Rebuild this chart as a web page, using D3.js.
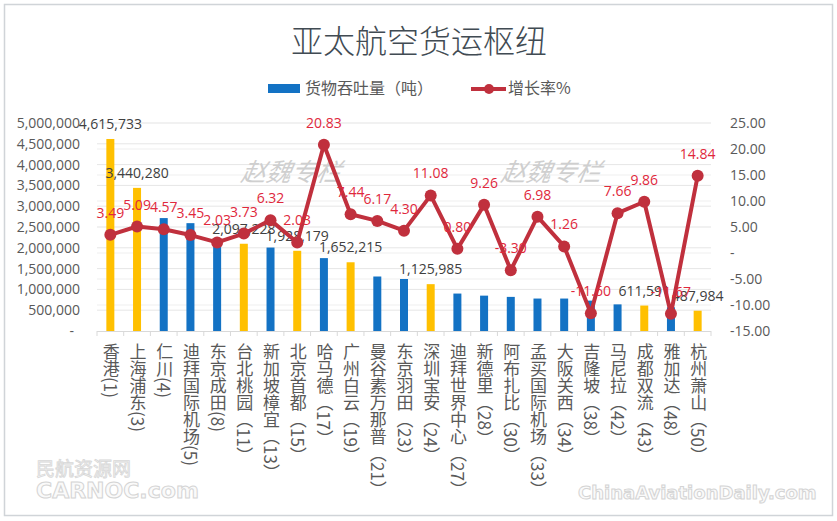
<!DOCTYPE html>
<html><head><meta charset="utf-8">
<script src="https://cdn.jsdelivr.net/npm/d3@7"></script>
<style>
body{margin:0;background:#fff;}
text{font-family:"Open Sans","Noto Sans CJK SC",sans-serif;}
</style></head>
<body><svg id="c" width="837" height="521"></svg>
<script>
const categories = ["香港(1)","上海浦东(3)","仁川(4)","迪拜国际机场(5)","东京成田(8)","台北桃园（11）","新加坡樟宜（13）","北京首都（15）","哈马德（17）","广州白云（19）","曼谷素万那普（21）","东京羽田（23）","深圳宝安（24）","迪拜世界中心（27）","新德里（28）","阿布扎比（30）","孟买国际机场（33）","大阪关西（34）","吉隆坡（38）","马尼拉（42）","成都双流（43）","雅加达（48）","杭州萧山（50）"];
const cargo = [4615733,3440280,2714341,2592454,2163000,2097228,2006000,1928179,1752000,1652215,1310000,1250000,1125985,900000,850000,820000,780000,780000,730000,640000,611591,570000,487984];
const growth = [3.49,5.09,4.57,3.45,2.03,3.73,6.32,2.03,20.83,7.44,6.17,4.30,11.08,0.80,9.26,-3.30,6.98,1.26,-11.60,7.66,9.86,-11.67,14.84];
const chinaHub = [1,1,0,0,0,1,0,1,0,1,0,0,1,0,0,0,0,0,0,0,1,0,1];
const showValue = [1,1,0,0,0,1,0,1,0,1,0,0,1,0,0,0,0,0,0,0,1,0,1];
const leftTicks = [0,500000,1000000,1500000,2000000,2500000,3000000,3500000,4000000,4500000,5000000];
const rightTicks = [-15,-10,-5,0,5,10,15,20,25];
const title = "亚太航空货运枢纽";
const seriesNames = ["货物吞吐量（吨）","增长率%"];

const svg = d3.select("#c");
const plot = {l:97, r:711, t:123, b:331};
const x = d3.scaleBand().domain(categories).range([plot.l,plot.r]).paddingInner(0).paddingOuter(0);
const yL = d3.scaleLinear().domain([0,5000000]).range([plot.b,plot.t]);
const yR = d3.scaleLinear().domain([-15,25]).range([plot.b,plot.t]);
const fmt = d3.format(",");
const f2 = v => d3.format(".2f")(v).replace("\u2212","-");
const BLUE="#1372c4", GOLD="#FFC000", RED="#C0303D", LRED="#E0283C", GRAY="#595959";

// border
svg.append("rect").attr("x",4.5).attr("y",4.5).attr("width",828).attr("height",511)
  .attr("fill","#fff").attr("stroke","#d0d4d8").attr("stroke-width",1.5);

// title
svg.append("text").attr("x",419).attr("y",53).attr("text-anchor","middle")
  .style("font-family","'Noto Sans CJK SC'").style("font-size","32px").style("font-weight",300)
  .attr("fill","#414b53").text(title);

// legend
svg.append("rect").attr("x",268).attr("y",84).attr("width",32).attr("height",9).attr("fill",BLUE);
svg.append("text").attr("x",305).attr("y",94).style("font-family","'Noto Sans CJK SC'").style("font-size","16px").attr("fill",GRAY).text(seriesNames[0]);
svg.append("line").attr("x1",471).attr("x2",506).attr("y1",89).attr("y2",89).attr("stroke",RED).attr("stroke-width",4);
svg.append("circle").attr("cx",489).attr("cy",89).attr("r",5).attr("fill",RED);
svg.append("text").attr("x",508).attr("y",94).style("font-family","'Noto Sans CJK SC'").style("font-size","16px").attr("fill",GRAY).text(seriesNames[1]);

// gridlines
const g = svg.append("g");
g.selectAll("line.gl").data(leftTicks.slice(1)).join("line")
  .attr("x1",plot.l).attr("x2",plot.r).attr("y1",d=>yL(d)).attr("y2",d=>yL(d))
  .attr("stroke","#e6e6e6").attr("stroke-width",1);
g.selectAll("line.gr").data(rightTicks.slice(1)).join("line")
  .attr("x1",plot.l).attr("x2",plot.r).attr("y1",d=>yR(d)).attr("y2",d=>yR(d))
  .attr("stroke","#efefef").attr("stroke-width",1);

// watermarks (author)
[[240,181],[500,181]].forEach(p=>{
  svg.append("text").attr("x",p[0]).attr("y",p[1]).style("font-family","'Noto Sans CJK SC'")
   .style("font-size","25px").style("font-style","italic").attr("fill","#cfcfcf")
   .attr("transform",`skewX(-10) translate(${p[1]*Math.tan(10*Math.PI/180)},0)`).text("赵魏专栏");
});

// left axis
const axL = d3.axisLeft(yL).tickValues(leftTicks).tickSize(0).tickPadding(0)
  .tickFormat(d=>d===0?"-":fmt(d));
const gL = svg.append("g").attr("transform","translate(80,0)").call(axL);
gL.select(".domain").remove();
gL.selectAll("text").style("font-size","14px").attr("fill",GRAY).style("font-family","'Open Sans'");
gL.selectAll(".tick").filter(d=>d===0).select("text").attr("dx",-6);

// right axis
const axR = d3.axisRight(yR).tickValues(rightTicks).tickSize(0).tickPadding(0)
  .tickFormat(d=>d===0?"-":f2(d));
const gR = svg.append("g").attr("transform","translate(730,0)").call(axR);
gR.select(".domain").remove();
gR.selectAll("text").style("font-size","14px").attr("fill",GRAY).style("font-family","'Open Sans'");

// bars
const bw = 8;
svg.selectAll("rect.bar").data(categories).join("rect").attr("class","bar")
  .attr("x",(d)=>x(d)+x.bandwidth()/2-bw/2).attr("width",bw)
  .attr("y",(d,i)=>yL(cargo[i])).attr("height",(d,i)=>yL(0)-yL(cargo[i]))
  .attr("fill",(d,i)=>chinaHub[i]?GOLD:BLUE);

// category axis
svg.append("line").attr("x1",plot.l).attr("x2",plot.r).attr("y1",plot.b+0.5).attr("y2",plot.b+0.5).attr("stroke","#d9d9d9");
const bounds = categories.map(d=>x(d)).concat([plot.r]);
svg.selectAll("line.tk").data(bounds).join("line")
  .attr("x1",d=>d).attr("x2",d=>d).attr("y1",plot.b).attr("y2",plot.b+5).attr("stroke","#d9d9d9");

// category labels (vertical)
svg.selectAll("text.cat").data(categories).join("text").attr("class","cat")
  .attr("x",d=>x(d)+x.bandwidth()/2+1).attr("y",343)
  .style("writing-mode","vertical-rl").style("font-family","'Noto Sans CJK SC'")
  .style("font-size","17px").attr("fill",GRAY).text(d=>d);

// bar value labels
svg.selectAll("text.val").data(categories.filter((d,i)=>showValue[i])).join("text").attr("class","val")
  .attr("x",d=>x(d)+x.bandwidth()/2).attr("y",d=>yL(cargo[categories.indexOf(d)])-10)
  .attr("text-anchor","middle").style("font-size","14px").attr("fill","#404040")
  .text(d=>fmt(cargo[categories.indexOf(d)]));

// line
const line = d3.line().x((d,i)=>x(categories[i])+x.bandwidth()/2).y(d=>yR(d));
svg.append("path").datum(growth).attr("d",line).attr("fill","none").attr("stroke",RED)
  .attr("stroke-width",4).attr("stroke-linejoin","round");
svg.selectAll("circle.pt").data(growth).join("circle").attr("class","pt")
  .attr("cx",(d,i)=>x(categories[i])+x.bandwidth()/2).attr("cy",d=>yR(d)).attr("r",6).attr("fill",RED);
svg.selectAll("text.gl").data(growth).join("text").attr("class","gl")
  .attr("x",(d,i)=>x(categories[i])+x.bandwidth()/2).attr("y",d=>yR(d)-17)
  .attr("text-anchor","middle").style("font-size","14px").attr("fill",LRED)
  .text(d=>f2(d));

// site watermarks
function wm(t,xp,yp,size,anchor){
  svg.append("text").attr("x",xp).attr("y",yp).attr("text-anchor",anchor||"start")
   .style("font-family","'DejaVu Sans'").style("font-weight","bold").style("font-size",size+"px")
   .attr("fill","#fafafa").attr("stroke","#d4d4d4").attr("stroke-width",1).text(t);
}
svg.append("text").attr("x",36).attr("y",476).style("font-family","'Noto Sans CJK SC'").style("font-size","19px")
  .attr("fill","#f4f4f4").attr("stroke","#d8d8d8").attr("stroke-width",0.8).text("民航资源网");
wm("CARNOC.com",36,498,22);
wm("ChinaAviationDaily.com",578,499,18);
</script></body></html>
